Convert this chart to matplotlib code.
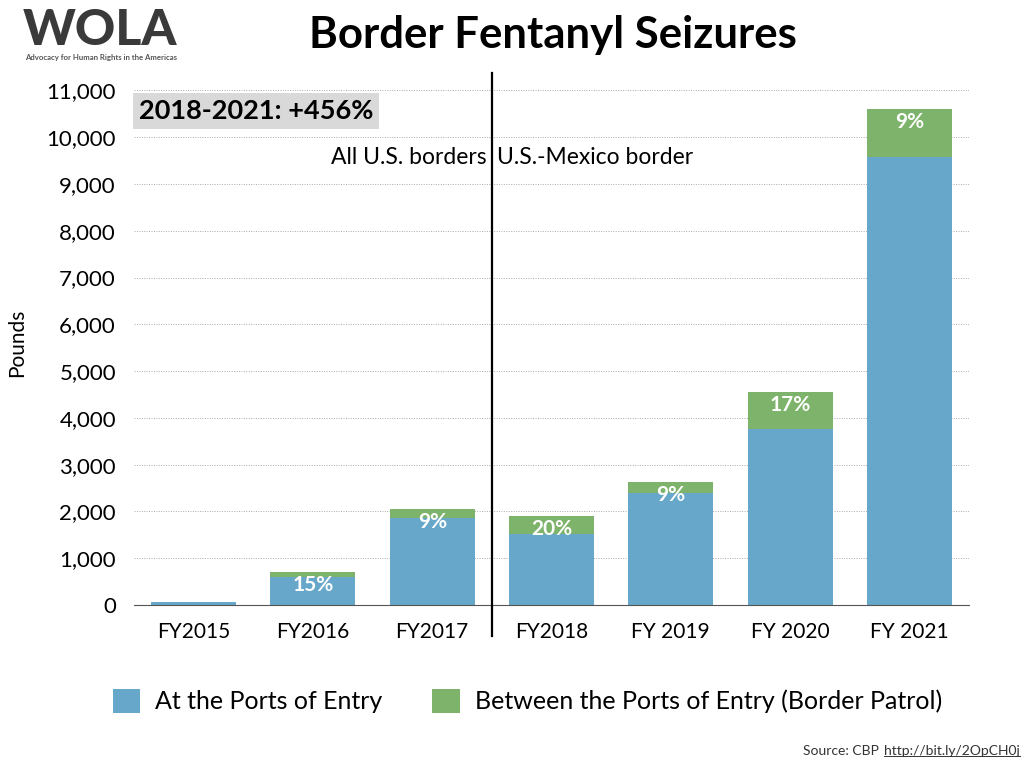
import numpy as np
import matplotlib.pyplot as plt

plt.rcParams['font.family'] = ['Lato', 'DejaVu Sans']

# data (pounds)
years = ['FY2015', 'FY2016', 'FY2017', 'FY2018', 'FY 2019', 'FY 2020', 'FY 2021']
ports = [70, 595, 1865, 1520, 2390, 3760, 9570]
between = [0, 105, 185, 380, 240, 790, 1030]
pct_labels = ['', '15%', '9%', '20%', '9%', '17%', '9%']
yticks = np.arange(0, 11001, 1000)

blue = '#67a7c9'
green = '#7db36a'

fig = plt.figure(figsize=(10.24, 7.68), dpi=100)
ax = fig.add_axes([0.1309, 0.2122, 0.8154, 0.6823])

x = np.arange(len(years))
totals = np.array(ports) + np.array(between)
ax.bar(x, ports, width=0.713, color=blue, label='At the Ports of Entry', zorder=2)
ax.bar(x, between, width=0.713, bottom=ports, color=green,
       label='Between the Ports of Entry (Border Patrol)', zorder=2)

for i, lab in enumerate(pct_labels):
    if lab:
        ax.text(x[i], totals[i] - 60, lab, ha='center', va='top', color='white',
                fontsize=15, fontweight='bold', zorder=3)

ax.set_xlim(-0.5, 6.5)
ax.set_ylim(0, 11200)
ax.set_yticks(yticks)
ax.set_yticklabels([f'{v:,}' for v in yticks], fontsize=16)
ax.set_xticks(x)
ax.set_xticklabels(years, fontsize=15)
ax.tick_params(length=0)
ax.tick_params(axis='x', pad=12)
ax.tick_params(axis='y', pad=13)
ax.set_ylabel('Pounds', fontsize=15)
ax.yaxis.set_label_coords(-0.128, 0.5)
ax.grid(axis='y', linestyle=(0, (1, 1.5)), color='#aaaaaa', linewidth=0.7, zorder=0)
for s in ['top', 'right', 'left']:
    ax.spines[s].set_visible(False)
ax.spines['bottom'].set_color('#555555')

# divider between data sets
ax.plot([2.5, 2.5], [-0.06, 1.015], transform=ax.get_xaxis_transform(),
        color='black', linewidth=1.6, clip_on=False, zorder=4)
ax.text(2.46, 9560, 'All U.S. borders', ha='right', va='center', fontsize=16.5)
ax.text(2.54, 9560, 'U.S.-Mexico border', ha='left', va='center', fontsize=16.5)

ax.text(-0.46, 10560, '2018-2021: +456%', ha='left', va='center', fontsize=19.5,
        fontweight='bold', bbox=dict(facecolor='#d9d9d9', edgecolor='none', pad=4))

fig.text(0.54, 0.954, 'Border Fentanyl Seizures', ha='center', va='center',
         fontsize=31.5, fontweight='bold')
fig.text(0.022, 0.96, 'WOLA', ha='left', va='center', fontsize=36,
         fontweight='black', color='#3a3a3a')
fig.text(0.024, 0.925, 'Advocacy for Human Rights in the Americas', ha='left',
         va='center', fontsize=5.6, fontweight='bold', color='#555555')

fig.legend(loc='lower center', bbox_to_anchor=(0.515, 0.042), ncol=2, frameon=False,
           fontsize=18, handlelength=1.1, handleheight=1.1, columnspacing=2.0,
           handletextpad=0.6)

src = fig.text(0.996, 0.022, 'http://bit.ly/2OpCH0j', ha='right', va='center',
               fontsize=10, color='#333333')
fig.canvas.draw()
bb = src.get_window_extent().transformed(fig.transFigure.inverted())
fig.text(bb.x0 - 0.005, 0.022, 'Source: CBP', ha='right', va='center', fontsize=10,
         color='#333333')
fig.lines.append(plt.Line2D([bb.x0, bb.x1], [bb.y0 + 0.002, bb.y0 + 0.002],
                            transform=fig.transFigure, color='#333333', linewidth=0.7))

fig.savefig('out.png', dpi=100)
